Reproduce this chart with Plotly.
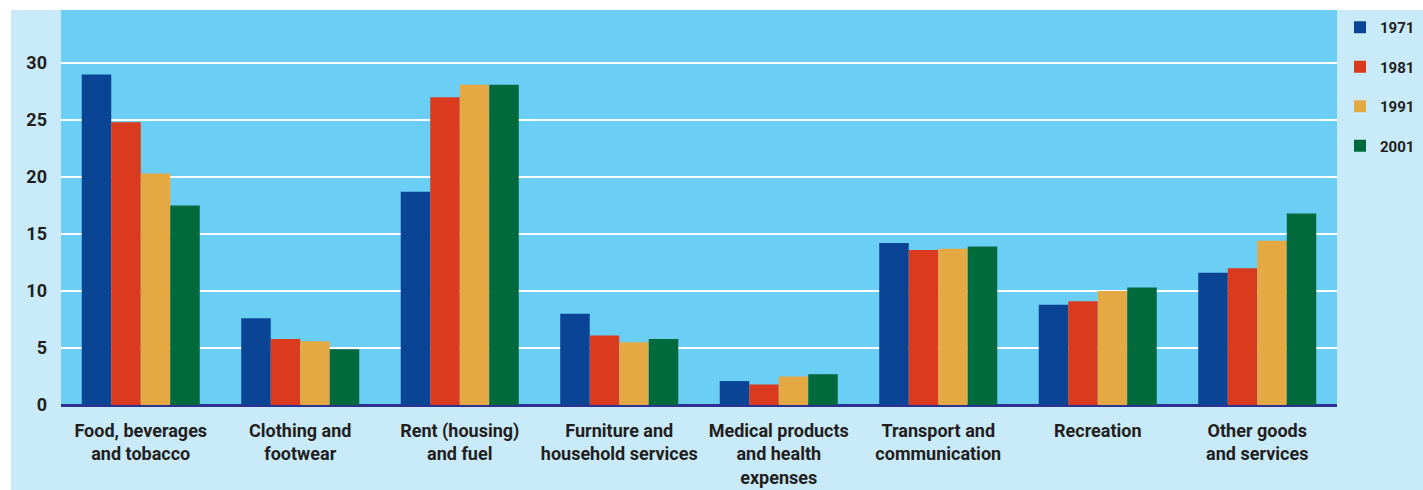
import plotly.graph_objects as go

categories = [
    "Food, beverages<br>and tobacco",
    "Clothing and<br>footwear",
    "Rent (housing)<br>and fuel",
    "Furniture and<br>household services",
    "Medical products<br>and health<br>expenses",
    "Transport and<br>communication",
    "Recreation",
    "Other goods<br>and services",
]
years = ["1971", "1981", "1991", "2001"]
v1971 = [29.0, 7.6, 18.7, 8.0, 2.1, 14.2, 8.8, 11.6]
v1981 = [24.8, 5.8, 27.0, 6.1, 1.8, 13.6, 9.1, 12.0]
v1991 = [20.3, 5.6, 28.1, 5.5, 2.5, 13.7, 10.0, 14.4]
v2001 = [17.5, 4.9, 28.1, 5.8, 2.7, 13.9, 10.3, 16.8]
series = [v1971, v1981, v1991, v2001]
colors = ["#0a4494", "#da3a1e", "#e5a944", "#006a3d"]
y_ticks = [0, 5, 10, 15, 20, 25, 30]

FONT = "Roboto, sans-serif"
TXT = "#231f20"
LIGHT = "#c8eaf9"
PLOTBG = "#6bcff5"

fig = go.Figure()
for name, vals, col in zip(years, series, colors):
    fig.add_trace(go.Bar(
        x=categories, y=vals, name=name, legendgroup=name,
        marker=dict(color=col, line=dict(width=0)),
    ))

W, H = 1423, 490
ml, mr, mt, mb = 61, 86, 10, 85
pw, ph = W - ml - mr, H - mt - mb

fig.update_layout(
    width=W, height=H,
    margin=dict(l=ml, r=mr, t=mt, b=mb, pad=0, autoexpand=False),
    paper_bgcolor=LIGHT,
    plot_bgcolor=PLOTBG,
    barmode="group",
    bargap=0.26,
    bargroupgap=0,
    font=dict(family=FONT, size=18, color=TXT, weight=700),
    showlegend=True,
    legend=dict(
        x=(1340 - ml) / pw, xanchor="left",
        y=1 + (mt - 11) / ph, yanchor="top",
        bgcolor="rgba(0,0,0,0)",
        font=dict(family=FONT, size=15, color=TXT, weight=700),
        tracegroupgap=17,
        itemwidth=30,
    ),
    xaxis=dict(
        showgrid=False, showline=False, ticks="",
        tickfont=dict(family=FONT, size=18, color=TXT, weight=700),
        ticklabelstandoff=13,
    ),
    yaxis=dict(
        range=[0, 34.65],
        tickvals=y_ticks,
        showgrid=True, gridcolor="white", gridwidth=2,
        zeroline=True, zerolinecolor="#2e3192", zerolinewidth=3,
        showline=False, ticks="",
        tickfont=dict(family=FONT, size=18, color=TXT, weight=700),
        ticklabelstandoff=13,
    ),
    shapes=[
        dict(type="rect", xref="paper", yref="paper",
             x0=-ml / pw, x1=1 + mr / pw, y0=1, y1=1 + mt / ph,
             fillcolor="white", line=dict(width=0), layer="above"),
        dict(type="rect", xref="paper", yref="paper",
             x0=-ml / pw, x1=-(ml - 11) / pw, y0=-mb / ph, y1=1 + mt / ph,
             fillcolor="white", line=dict(width=0), layer="above"),
    ],
)

fig.write_html(
    "out.html",
    config={"displayModeBar": False},
    post_script="document.body.style.margin='0';document.body.style.padding='0';",
)
